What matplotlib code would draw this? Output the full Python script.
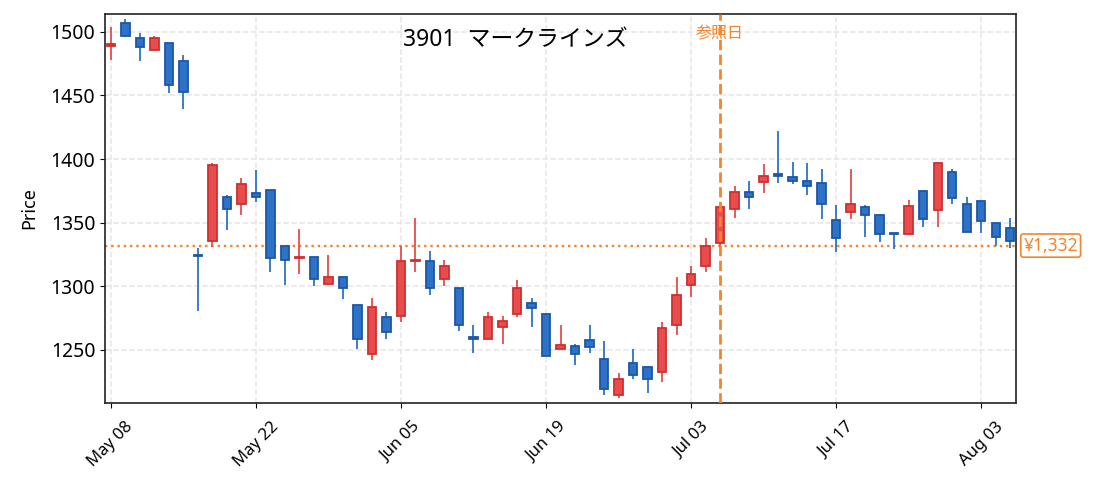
import matplotlib
matplotlib.use("Agg")
import matplotlib.pyplot as plt
import matplotlib.transforms as mtransforms

plt.rcParams['font.family'] = ['Noto Sans', 'Noto Sans CJK JP', 'DejaVu Sans']

# daily OHLC, one entry per trading day
opens = [1489, 1507, 1495, 1486, 1491, 1477, 1325, 1336, 1370, 1365,
         1373, 1376, 1332, 1322, 1323, 1302, 1307, 1285, 1247, 1276,
         1277, 1320, 1320, 1306, 1299, 1260, 1259, 1268, 1278, 1287,
         1278, 1251, 1253, 1258, 1243, 1215, 1240, 1237, 1233, 1270,
         1301, 1316, 1334, 1361, 1374, 1382, 1388, 1386, 1383, 1381,
         1352, 1358, 1362, 1356, 1342, 1341, 1375, 1360, 1390, 1365,
         1367, 1350, 1346]
highs = [1504, 1510, 1499, 1497, 1491, 1482, 1330, 1397, 1372, 1385,
         1391, 1376, 1332, 1345, 1323, 1325, 1307, 1285, 1291, 1280,
         1332, 1354, 1328, 1321, 1299, 1270, 1280, 1277, 1305, 1291,
         1279, 1270, 1255, 1270, 1257, 1232, 1251, 1237, 1272, 1307,
         1316, 1338, 1364, 1379, 1383, 1396, 1422, 1398, 1397, 1392,
         1364, 1392, 1364, 1356, 1342, 1368, 1375, 1397, 1392, 1370,
         1367, 1350, 1354]
lows = [1478, 1496, 1477, 1486, 1452, 1439, 1281, 1331, 1344, 1356,
        1366, 1311, 1301, 1310, 1300, 1302, 1290, 1251, 1242, 1259,
        1272, 1311, 1293, 1300, 1265, 1248, 1259, 1255, 1276, 1268,
        1245, 1251, 1238, 1248, 1215, 1212, 1227, 1216, 1225, 1262,
        1292, 1311, 1331, 1354, 1361, 1373, 1381, 1380, 1372, 1353,
        1327, 1353, 1339, 1335, 1329, 1341, 1347, 1347, 1365, 1343,
        1342, 1332, 1330]
closes = [1490, 1497, 1488, 1495, 1458, 1453, 1324, 1395, 1361, 1380,
          1370, 1322, 1321, 1323, 1306, 1307, 1299, 1259, 1284, 1264,
          1320, 1321, 1299, 1316, 1270, 1259, 1276, 1273, 1299, 1283,
          1245, 1254, 1247, 1252, 1219, 1227, 1230, 1227, 1267, 1293,
          1310, 1332, 1362, 1374, 1370, 1387, 1387, 1383, 1379, 1365,
          1338, 1365, 1356, 1341, 1341, 1363, 1353, 1397, 1369, 1343,
          1351, 1339, 1336]

tick_pos = [0, 10, 20, 30, 40, 50, 60]
tick_labels = ["May 08", "May 22", "Jun 05", "Jun 19", "Jul 03", "Jul 17", "Aug 03"]

ref_idx = 42
ref_price = 1332
title = "3901  マークラインズ"

up_fill, up_edge = '#e84c4c', '#cf2f2f'
dn_fill, dn_edge = '#2d72c6', '#1b57a6'
orange = '#f5842a'

fig = plt.figure(figsize=(10.95, 4.92), dpi=100)
ax = fig.add_axes([0.0959, 0.1815, 0.832, 0.79])

xs = list(range(len(opens)))
fills, edges, bottoms, heights = [], [], [], []
for o, c in zip(opens, closes):
    up = c >= o
    fills.append(up_fill if up else dn_fill)
    edges.append(up_edge if up else dn_edge)
    bottoms.append(min(o, c))
    heights.append(max(abs(c - o), 0.8))

ax.vlines(xs, lows, highs, colors=[up_fill if c >= o else dn_fill for o, c in zip(opens, closes)],
          linewidth=1.3, zorder=2)
ax.bar(xs, heights, bottom=bottoms, width=0.58, color=fills, edgecolor=edges,
       linewidth=1.3, zorder=3)

ax.axvline(ref_idx, color=orange, linestyle='--', linewidth=2, zorder=4)
ax.axhline(ref_price, color=orange, linestyle=':', linewidth=1.7, zorder=1)

trans = mtransforms.blended_transform_factory(ax.transData, ax.transAxes)
ax.text(ref_idx, 0.947, "参照日", transform=trans, color=orange, fontsize=11.5,
        ha='center', va='center')
trans2 = mtransforms.blended_transform_factory(ax.transAxes, ax.transData)
ax.text(1.008, ref_price, f"¥{ref_price:,}", transform=trans2, color=orange, fontsize=12.5,
        ha='left', va='center',
        bbox=dict(boxstyle='round,pad=0.15', facecolor='white', edgecolor=orange, linewidth=1.2))

ax.text(0.45, 0.932, title, transform=ax.transAxes, fontsize=16.5, ha='center', va='center')

ax.set_xlim(-0.4, 62.4)
ax.set_ylim(1208.6, 1513.9)
ax.set_xticks(tick_pos)
ax.set_xticklabels(tick_labels, rotation=45, fontsize=12)
ax.tick_params(axis='x', pad=8)
ax.set_yticks([1250, 1300, 1350, 1400, 1450, 1500])
ax.tick_params(axis='y', labelsize=14)
ax.set_ylabel("Price", fontsize=13, labelpad=9)

ax.grid(True, linestyle='--', color='#e6e6e6', linewidth=1.1)
ax.set_axisbelow(True)
for s in ax.spines.values():
    s.set_linewidth(1.2)
    s.set_color('#222222')

fig.savefig("out.png", dpi=100)
